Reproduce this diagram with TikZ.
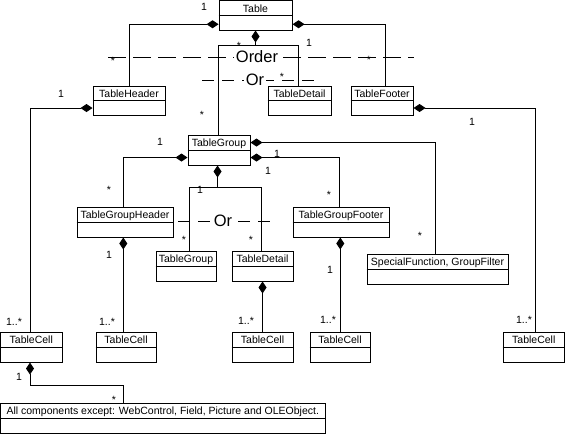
\documentclass[tikz,border=0pt]{standalone}
\usepackage{fontspec}
\setmainfont{Liberation Sans}
\usetikzlibrary{arrows.meta,calc,fit}
\tikzset{
 clsbox/.style={draw, line width=1pt, inner sep=0pt},
 clstitle/.style={font=\fontsize{10.5}{12}\selectfont, inner sep=0pt, anchor=base},
 lbl/.style={font=\fontsize{10.5}{12}\selectfont, inner sep=0pt, anchor=base},
 conn/.style={line width=1pt},
 comp/.style={line width=1pt, {Diamond[length=12pt,width=8pt]}-},
 sepline/.style={line width=1pt, dash pattern=on 18pt off 7pt},
 orline/.style={line width=1pt, dash pattern=on 12pt off 8pt},
 bigtext/.style={font=\fontsize{16.5}{18}\selectfont, fill=white, inner xsep=2pt, inner ysep=0pt},
}
\newcommand\umlclass[6]{%
 \coordinate (#1-a) at (#2,#3);
 \coordinate (#1-b) at (#4,#5);
 \node[clsbox, fit=(#1-a)(#1-b)] (#1) {};
 \draw[conn] (#1.west) -- (#1.east);
 \node[clstitle] (#1-t) at ($(#1.north)+(0,12)$) {#6};
}
\begin{document}
\begin{tikzpicture}[x=1pt,y=-1pt]
\useasboundingbox (0,0) rectangle (565,434);
% separator lines
\coordinate (o1) at (108,57.3);
\coordinate (o2) at (414,57.3);
\draw[sepline] (o1) -- (o2);
\coordinate (r1) at (202,80);
\coordinate (r2) at (319,80);
\draw[orline] (r1) -- (r2);
\coordinate (s1) at (178,221);
\coordinate (s2) at (271,221);
\draw[orline] (s1) -- (s2);
% classes
\umlclass{Table}{219}{0.5}{292}{30}{Table}
\umlclass{TH}{93}{86}{165}{115}{TableHeader}
\umlclass{TD}{268}{86}{331}{115}{TableDetail}
\umlclass{TF}{351}{86}{413}{115}{TableFooter}
\umlclass{TG}{188}{135}{250}{165}{TableGroup}
\umlclass{TGH}{77}{207}{173}{237}{TableGroupHeader}
\umlclass{TGF}{293}{207}{389}{237}{TableGroupFooter}
\umlclass{TG2}{156}{251}{216}{281}{TableGroup}
\umlclass{TD2}{232}{251}{293}{281}{TableDetail}
\umlclass{SF}{367}{254}{508}{284}{SpecialFunction, GroupFilter}
\umlclass{TC1}{0.5}{332}{62}{362}{TableCell}
\umlclass{TC2}{96}{332}{156}{362}{TableCell}
\umlclass{TC3}{232}{332}{293}{362}{TableCell}
\umlclass{TC4}{310}{332}{370}{362}{TableCell}
\umlclass{TC5}{503}{332}{564.5}{362}{TableCell}
\umlclass{AC}{0.5}{403}{325}{433}{All components except: WebControl, Field, Picture and OLEObject.}
% connectors
\draw[comp] ([yshift=-9pt]Table.west) -| (TH.north);
\draw[comp] ([yshift=-9pt]Table.east) -| ([xshift=3pt]TF.north);
\coordinate (j1) at ($(Table.south)+(0,15)$);
\draw[comp] (Table.south) -- (j1);
\draw[conn] ([xshift=-1pt]TG.north) |- (j1) -| ([xshift=-1.5pt]TD.north);
\draw[comp] ([yshift=-7.5pt]TH.west) -| ([xshift=-1pt]TC1.north);
\draw[comp] ([yshift=-7.5pt]TF.east) -| ([xshift=2pt]TC5.north);
\draw[comp] ([yshift=7.5pt]TG.east) -| ([xshift=-2pt]SF.north);
\draw[comp] ([yshift=-7.5pt]TG.west) -| ([xshift=-2pt]TGH.north);
\draw[comp] ([yshift=-7.5pt]TG.east) -| ([xshift=-1.5pt]TGF.north);
\coordinate (j2) at ($([xshift=-1.5pt]TG.south)+(0,22)$);
\draw[comp] ([xshift=-1.5pt]TG.south) -- (j2);
\draw[conn] ([xshift=3pt]TG2.north) |- (j2) -| ([xshift=-1.5pt]TD2.north);
\draw[comp] ([xshift=-1.7pt]TGH.south) -- ([xshift=-1.7pt]TGH.south |- TC2.north);
\draw[comp] (TD2.south) -- (TD2.south |- TC3.north);
\draw[comp] ([xshift=-0.7pt]TGF.south) -- ([xshift=-0.7pt]TGF.south |- TC4.north);
\draw[comp] ([xshift=-1.25pt]TC1.south) |- ([xshift=-39.5pt,yshift=17pt]AC.north) -- ([xshift=-39.5pt]AC.north);
% separator texts
\node[bigtext] (order) at (257,57) {Order};
\node[bigtext] (or1) at (255,80) {Or};
\node[bigtext] (or2) at (223,221) {Or};
% multiplicities
\node[lbl] (m1) at (204,10.8) {1};
\node[lbl] (m2) at (239,49) {*};
\node[lbl] (m3) at (309,46.8) {1};
\node[lbl] (m4) at (113,64) {*};
\node[lbl] (m5) at (369,63) {*};
\node[lbl] (m6) at (282,80) {*};
\node[lbl] (m7) at (202,118) {*};
\node[lbl] (m8) at (61,97.8) {1};
\node[lbl] (m9) at (160,145.8) {1};
\node[lbl] (m10) at (472,125.8) {1};
\node[lbl] (m11) at (277,157.8) {1};
\node[lbl] (m12) at (268,174.8) {1};
\node[lbl] (m13) at (109,193) {*};
\node[lbl] (m14) at (329,198) {*};
\node[lbl] (m15) at (200,193.8) {1};
\node[lbl] (m16) at (184,243) {*};
\node[lbl] (m17) at (251,243) {*};
\node[lbl] (m18) at (109,258.8) {1};
\node[lbl] (m19) at (330,273.8) {1};
\node[lbl] (m20) at (420,239) {*};
\node[lbl] (m21) at (14,325.8) {1..*};
\node[lbl] (m22) at (107,325.8) {1..*};
\node[lbl] (m23) at (246,324.8) {1..*};
\node[lbl] (m24) at (328,323.8) {1..*};
\node[lbl] (m25) at (524,323.8) {1..*};
\node[lbl] (m26) at (19,380.8) {1};
\node[lbl] (m27) at (114,403) {*};
\end{tikzpicture}
\end{document}
